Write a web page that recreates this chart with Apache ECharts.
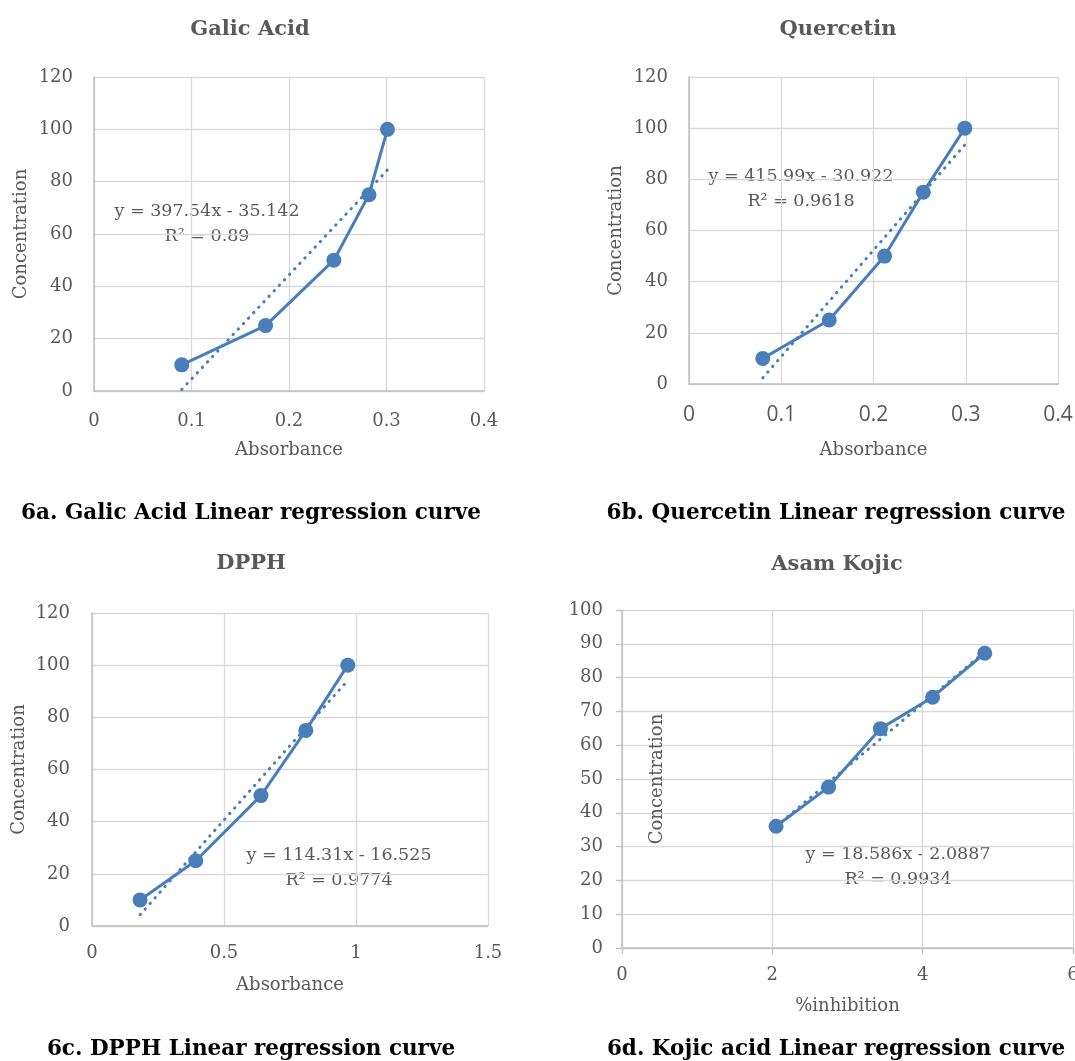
<!DOCTYPE html>
<html>
<head>
<meta charset="utf-8">
<script src="https://cdn.jsdelivr.net/npm/echarts@6/dist/echarts.min.js"></script>
<style>
  html, body { margin: 0; padding: 0; background: #fff; }
  #main { width: 1075px; height: 1061px; }
</style>
</head>
<body>
<div id="main"></div>
<script>
// values
const galicX = [0.09, 0.176, 0.246, 0.282, 0.301]
const galicY = [10, 25, 50, 75, 100]
const galicTrend = [[0.09, 0.6], [0.301, 84.5]]

const quercetinX = [0.08, 0.152, 0.212, 0.254, 0.299]
const quercetinY = [10, 25, 50, 75, 100]
const quercetinTrend = [[0.08, 2.4], [0.299, 93.5]]

const dpphX = [0.182, 0.393, 0.64, 0.81, 0.969]
const dpphY = [10, 25, 50, 75, 100]
const dpphTrend = [[0.182, 4.3], [0.969, 94.2]]

const kojicX = [2.05, 2.748, 3.438, 4.132, 4.826]
const kojicY = [36.0, 47.6, 64.9, 74.2, 87.2]
const kojicTrend = [[2.05, 36.0], [4.826, 87.6]]

// axis ranges: [min, max, interval]
const galicXAxis = [0, 0.4, 0.1], galicYAxis = [0, 120, 20]
const quercetinXAxis = [0, 0.4, 0.1], quercetinYAxis = [0, 120, 20]
const dpphXAxis = [0, 1.5, 0.5], dpphYAxis = [0, 120, 20]
const kojicXAxis = [0, 6, 2], kojicYAxis = [0, 100, 10]

const titles = ['Galic Acid', 'Quercetin', 'DPPH', 'Asam Kojic']
const captions = [
  '6a. Galic Acid Linear regression curve',
  '6b. Quercetin Linear regression curve',
  '6c. DPPH Linear regression curve',
  '6d. Kojic acid Linear regression curve',
]
const equations = [
  ['y = 397.54x - 35.142', 'R² = 0.89'],
  ['y = 415.99x - 30.922', 'R² = 0.9618'],
  ['y = 114.31x - 16.525', 'R² = 0.9774'],
  ['y = 18.586x - 2.0887', 'R² = 0.9934'],
]
const xNames = ['Absorbance', 'Absorbance', 'Absorbance', '%inhibition']
const yName = 'Concentration'

const SERIF = '"DejaVu Serif", serif'
const SANS = '"Open Sans", sans-serif'
const GREY = '#595959'
const BLUE = '#4a7ebb'

const panels = [
  { grid: { left: 94, top: 77, width: 390, height: 314 }, xs: galicX, ys: galicY, trend: galicTrend,
    xa: galicXAxis, ya: galicYAxis, title: [250, 30], eq: [207, 211], cap: [251, 513],
    xGap: 50, yGap: 64, xMargin: 21, yMargin: 21, ticks: false, xFont: SERIF, xSize: 18 },
  { grid: { left: 689, top: 77, width: 369, height: 307 }, xs: quercetinX, ys: quercetinY, trend: quercetinTrend,
    xa: quercetinXAxis, ya: quercetinYAxis, title: [838, 30], eq: [801, 176], cap: [836, 513],
    xGap: 57, yGap: 64, xMargin: 21, yMargin: 21, ticks: false, xFont: SANS, xSize: 21 },
  { grid: { left: 92, top: 613, width: 396, height: 313 }, xs: dpphX, ys: dpphY, trend: dpphTrend,
    xa: dpphXAxis, ya: dpphYAxis, title: [251, 564], eq: [339, 855], cap: [251, 1049],
    xGap: 50, yGap: 64, xMargin: 18, yMargin: 22, ticks: false, xFont: SERIF, xSize: 18 },
  { grid: { left: 622, top: 610, width: 451, height: 338 }, xs: kojicX, ys: kojicY, trend: kojicTrend,
    xa: kojicXAxis, ya: kojicYAxis, title: [837, 565], eq: [898, 854], cap: [836, 1049],
    xGap: 49, yGap: -44, xMargin: 18, yMargin: 19, ticks: true, xFont: SERIF, xSize: 18 },
]

const chart = echarts.init(document.getElementById('main'), null, { renderer: 'canvas' })

const grid = [], xAxis = [], yAxis = [], series = [], graphic = []

panels.forEach((p, i) => {
  grid.push(Object.assign({ containLabel: false, outerBoundsMode: 'none' }, p.grid))
  const tick = { show: p.ticks, length: 6, lineStyle: { color: '#bfbfbf', width: 1.3 } }
  xAxis.push({
    type: 'value', gridIndex: i, min: p.xa[0], max: p.xa[1], interval: p.xa[2],
    name: xNames[i], nameLocation: 'middle', nameGap: p.xGap,
    nameTextStyle: { color: GREY, fontFamily: SERIF, fontSize: 18 },
    axisLine: { show: true, onZero: false, lineStyle: { color: '#bfbfbf', width: 1.5 } },
    axisTick: tick,
    axisLabel: { color: GREY, fontFamily: p.xFont, fontSize: p.xSize, margin: p.xMargin, hideOverlap: false },
    splitLine: { show: true, lineStyle: { color: '#d9d9d9', width: 1.3 } },
  })
  yAxis.push({
    type: 'value', gridIndex: i, min: p.ya[0], max: p.ya[1], interval: p.ya[2],
    name: yName, nameLocation: 'middle', nameGap: p.yGap,
    nameTextStyle: { color: GREY, fontFamily: SERIF, fontSize: 18 },
    axisLine: { show: true, onZero: false, lineStyle: { color: '#bfbfbf', width: 1.5 } },
    axisTick: tick,
    axisLabel: { color: GREY, fontFamily: SERIF, fontSize: 18, margin: p.yMargin },
    splitLine: { show: true, lineStyle: { color: '#d9d9d9', width: 1.3 } },
  })
  series.push({
    type: 'line', xAxisIndex: i, yAxisIndex: i,
    data: p.xs.map((x, k) => [x, p.ys[k]]),
    symbol: 'circle', symbolSize: 15, showSymbol: true,
    lineStyle: { width: 3, color: BLUE }, itemStyle: { color: BLUE },
    z: 3,
  })
  series.push({
    type: 'line', xAxisIndex: i, yAxisIndex: i,
    data: p.trend, symbol: 'none',
    lineStyle: { width: 3, color: BLUE, type: [0.5, 7], cap: 'round' },
    z: 4,
  })

  graphic.push({
    type: 'text', x: p.title[0], y: p.title[1],
    style: { text: titles[i], fill: GREY, font: 'bold 21px ' + SERIF, align: 'center', verticalAlign: 'middle' },
  })
  graphic.push({
    type: 'text', x: p.eq[0], y: p.eq[1],
    style: { text: equations[i][0], fill: GREY, font: '17.5px ' + SERIF, align: 'center', verticalAlign: 'middle' },
  })
  graphic.push({
    type: 'text', x: p.eq[0], y: p.eq[1] + 25,
    style: { text: equations[i][1], fill: GREY, font: '17.5px ' + SERIF, align: 'center', verticalAlign: 'middle' },
  })
  graphic.push({
    type: 'text', x: p.cap[0], y: p.cap[1],
    style: { text: captions[i], fill: '#000', font: 'bold 21.5px ' + SERIF, align: 'center', verticalAlign: 'middle' },
  })
})

chart.setOption({
  animation: false,
  backgroundColor: '#fff',
  grid, xAxis, yAxis, series, graphic,
})
</script>
</body>
</html>
